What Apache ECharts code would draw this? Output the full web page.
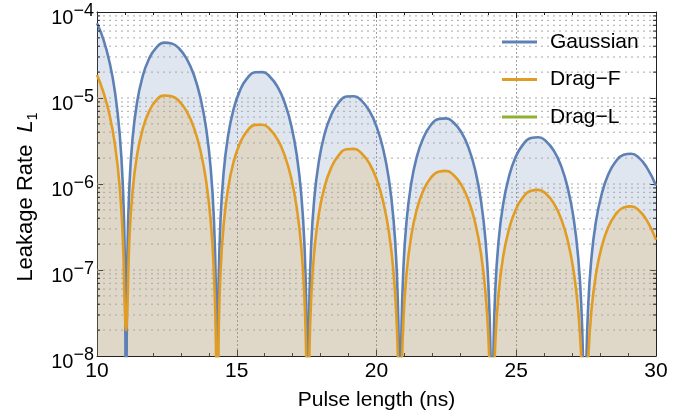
<!DOCTYPE html>
<html>
<head>
<meta charset="utf-8">
<script src="https://cdn.jsdelivr.net/npm/echarts@6/dist/echarts.min.js"></script>
<style>
html, body { margin: 0; background: #fff; }
#chart { width: 700px; height: 420px; }
</style>
</head>
<body>
<div id="chart"></div>
<script>
// pulse length (ns), sampled more densely near the zeros of the leakage curves
const pulseLength = [
    10, 10.225, 10.453, 10.649, 10.812, 10.926, 10.991,
    11.04,
    11.089, 11.154, 11.268, 11.431, 11.627, 11.855, 12.116, 12.409, 12.67, 12.931, 13.224, 13.485, 13.713, 13.909, 14.072, 14.186, 14.251,
    14.30,
    14.349, 14.413, 14.527, 14.689, 14.883, 15.11, 15.369, 15.661, 15.92, 16.179, 16.471, 16.73, 16.957, 17.151, 17.313, 17.427, 17.491,
    17.54,
    17.59, 17.656, 17.771, 17.936, 18.134, 18.365, 18.629, 18.926, 19.19, 19.454, 19.751, 20.015, 20.246, 20.444, 20.609, 20.725, 20.791,
    20.84,
    20.889, 20.955, 21.07, 21.235, 21.432, 21.663, 21.926, 22.222, 22.485, 22.748, 23.044, 23.308, 23.538, 23.735, 23.9, 24.015, 24.081,
    24.13,
    24.18, 24.246, 24.362, 24.528, 24.728, 24.96, 25.226, 25.524, 25.79, 26.056, 26.354, 26.62, 26.852, 27.052, 27.218, 27.334, 27.4,
    27.45,
    27.5, 27.566, 27.682, 27.848, 28.048, 28.28, 28.546, 28.844, 29.11, 29.376, 29.674, 30
];

const gaussian = [
    7.4e-5, 4.84e-5, 2.57e-5, 1.14e-5, 3.79e-6, 9.24e-7, 1.66e-7,
    1e-9,
    1.61e-7, 8.57e-7, 3.26e-6, 8.79e-6, 1.75e-5, 2.82e-5, 3.83e-5, 4.40e-5, 4.30e-5, 3.79e-5, 2.80e-5, 1.78e-5, 9.66e-6, 4.35e-6, 1.47e-6, 3.63e-7, 6.57e-8,
    1e-9,
    6.42e-8, 3.44e-7, 1.32e-6, 3.62e-6, 7.33e-6, 1.21e-5, 1.69e-5, 1.99e-5, 2.00e-5, 1.78e-5, 1.33e-5, 8.53e-6, 4.68e-6, 2.13e-6, 7.23e-7, 1.79e-7, 3.25e-8,
    1e-9,
    3.19e-8, 1.71e-7, 6.61e-7, 1.82e-6, 3.71e-6, 6.18e-6, 8.69e-6, 1.04e-5, 1.05e-5, 9.39e-6, 7.03e-6, 4.52e-6, 2.49e-6, 1.13e-6, 3.87e-7, 9.59e-8, 1.75e-8,
    1e-9,
    1.71e-8, 9.20e-8, 3.56e-7, 9.84e-7, 2.01e-6, 3.36e-6, 4.75e-6, 5.71e-6, 5.80e-6, 5.23e-6, 3.95e-6, 2.56e-6, 1.42e-6, 6.49e-7, 2.22e-7, 5.53e-8, 1.01e-8,
    1e-9,
    9.93e-9, 5.34e-8, 2.07e-7, 5.75e-7, 1.18e-6, 1.99e-6, 2.83e-6, 3.42e-6, 3.50e-6, 3.17e-6, 2.41e-6, 1.57e-6, 8.72e-7, 4.01e-7, 1.38e-7, 3.43e-8, 6.26e-9,
    1e-9,
    6.18e-9, 3.33e-8, 1.29e-7, 3.61e-7, 7.44e-7, 1.26e-6, 1.80e-6, 2.19e-6, 2.25e-6, 2.04e-6, 1.55e-6, 9.6e-7
];

const dragF = [
    1.85e-5, 1.18e-5, 6.29e-6, 2.78e-6, 9.26e-7, 2.26e-7, 4.07e-8,
    2e-8,
    3.94e-8, 2.09e-7, 7.96e-7, 2.15e-6, 4.26e-6, 6.89e-6, 9.36e-6, 1.07e-5, 1.05e-5, 9.27e-6, 6.84e-6, 4.34e-6, 2.36e-6, 1.06e-6, 3.59e-7, 8.86e-8, 1.61e-8,
    1e-9,
    1.57e-8, 8.40e-8, 3.23e-7, 8.85e-7, 1.79e-6, 2.96e-6, 4.12e-6, 4.87e-6, 4.89e-6, 4.36e-6, 3.25e-6, 2.08e-6, 1.14e-6, 5.20e-7, 1.77e-7, 4.38e-8, 7.95e-9,
    1e-9,
    7.80e-9, 4.18e-8, 1.61e-7, 4.45e-7, 9.07e-7, 1.51e-6, 2.12e-6, 2.54e-6, 2.56e-6, 2.29e-6, 1.72e-6, 1.11e-6, 6.09e-7, 2.77e-7, 9.45e-8, 2.34e-8, 4.26e-9,
    1e-9,
    4.19e-9, 2.25e-8, 8.70e-8, 2.41e-7, 4.92e-7, 8.22e-7, 1.16e-6, 1.39e-6, 1.42e-6, 1.28e-6, 9.65e-7, 6.25e-7, 3.46e-7, 1.59e-7, 5.43e-8, 1.35e-8, 2.46e-9,
    1e-9,
    2.43e-9, 1.30e-8, 5.06e-8, 1.41e-7, 2.89e-7, 4.85e-7, 6.91e-7, 8.36e-7, 8.55e-7, 7.74e-7, 5.88e-7, 3.83e-7, 2.13e-7, 9.80e-8, 3.37e-8, 8.39e-9, 1.53e-9,
    1e-9,
    1.51e-9, 8.13e-9, 3.16e-8, 8.81e-8, 1.82e-7, 3.07e-7, 4.39e-7, 5.34e-7, 5.50e-7, 4.98e-7, 3.78e-7, 2.25e-7
];

// Drag-L stays below 1e-8 over the whole range, only its legend entry is visible
const dragL = [];

const seriesNames = ['Gaussian', 'Drag\u2212F', 'Drag\u2212L'];
const lineColors = ['#5e81b5', '#e19c24', '#8fb032'];
const fillColors = ['rgba(94,129,181,0.2)', 'rgba(225,156,36,0.2)'];

const xTicks = [10, 15, 20, 25, 30];
const yDecades = [1e-8, 1e-7, 1e-6, 1e-5, 1e-4];
const yMantissa = [2, 3, 4, 5, 6, 7, 8, 9];

const FONT = 'Liberation Sans, Arial, Helvetica, sans-serif';
const X_MIN = xTicks[0], X_MAX = xTicks[xTicks.length - 1];
const MINOR_TICK = 0.11; // minor y tick length, in ns (about 3px)
const SMOOTH = 0.5;

let yMinor = [];
yDecades.slice(0, 4).forEach(d => yMantissa.forEach(m => yMinor.push(m * d)));
const yGrid = yMinor.concat(yDecades.slice(1, 4));

function pairs(ys) {
    return pulseLength.map((x, i) => [x, ys[i]]);
}

let myChart = echarts.init(document.getElementById('chart'), null, {renderer: 'canvas'});

const axisLineStyle = {color: '#222', width: 1};

function logAxis(position, extra) {
    return Object.assign({
        type: 'log',
        logBase: 10,
        min: yDecades[0],
        max: yDecades[yDecades.length - 1],
        position: position,
        axisLine: {show: true, lineStyle: axisLineStyle},
        axisTick: {show: true, inside: true, length: 6, lineStyle: axisLineStyle},
        axisLabel: {show: false},
        splitLine: {show: false}
    }, extra);
}

function areaSeries(idx, ys) {
    return {
        name: seriesNames[idx] + ' fill',
        type: 'line',
        data: pairs(ys),
        smooth: SMOOTH,
        showSymbol: false,
        silent: true,
        z: 1,
        lineStyle: {width: 0, opacity: 0},
        areaStyle: {color: fillColors[idx], origin: yDecades[0], opacity: 1},
        animation: false
    };
}

function lineSeries(idx, ys) {
    return {
        name: seriesNames[idx],
        type: 'line',
        data: ys.length ? pairs(ys) : [],
        smooth: SMOOTH,
        showSymbol: false,
        z: 3,
        color: lineColors[idx],
        lineStyle: {color: lineColors[idx], width: 2.6},
        animation: false
    };
}

// broken line made of short horizontal pieces, one per grid value
function segmentSeries(name, pieces, style, z) {
    let data = [];
    pieces.forEach(p => {
        data.push([p[0], p[2]], [p[1], p[2]], '-');
    });
    return {
        name: name,
        type: 'line',
        data: data,
        showSymbol: false,
        silent: true,
        connectNulls: false,
        z: z,
        lineStyle: style,
        animation: false
    };
}

// dotted horizontal grid lines at every 1..9 x 10^k
const gridSeries = segmentSeries('grid',
    yGrid.map(v => [X_MIN, X_MAX, v]),
    {color: '#a8a8a8', type: [2, 4], width: 1}, 2);

// short minor ticks on the left and right frame at 2..9 x 10^k
let tickPieces = [];
yMinor.forEach(v => {
    tickPieces.push([X_MIN, X_MIN + MINOR_TICK, v]);
    tickPieces.push([X_MAX - MINOR_TICK, X_MAX, v]);
});
const minorTickSeries = segmentSeries('minor ticks', tickPieces,
    {color: '#222', type: 'solid', width: 1}, 4);

let option = {
    backgroundColor: '#fff',
    animation: false,
    grid: {left: 97, right: 44, top: 12, bottom: 64, containLabel: false},
    legend: {
        data: seriesNames,
        orient: 'vertical',
        left: 502,
        top: 31,
        padding: 0,
        itemGap: 15.5,
        itemWidth: 35,
        itemHeight: 3,
        icon: 'rect',
        textStyle: {fontSize: 21, fontFamily: FONT, color: '#000', padding: [0, 0, 0, 8], lineHeight: 22}
    },
    xAxis: [{
        type: 'value',
        min: X_MIN,
        max: X_MAX,
        interval: 5,
        position: 'bottom',
        name: 'Pulse length (ns)',
        nameLocation: 'middle',
        nameGap: 34,
        nameTextStyle: {fontSize: 21, fontFamily: FONT, color: '#000'},
        axisLine: {show: true, lineStyle: axisLineStyle},
        axisTick: {show: true, inside: true, length: 6, lineStyle: axisLineStyle},
        minorTick: {show: true, splitNumber: 5, length: 3, lineStyle: axisLineStyle},
        axisLabel: {fontSize: 21, fontFamily: FONT, color: '#000', margin: 5, showMinLabel: true, showMaxLabel: true},
        splitLine: {show: true, lineStyle: {color: '#a0a0a0', type: [2, 2], width: 1}}
    }, {
        type: 'value',
        min: X_MIN,
        max: X_MAX,
        interval: 5,
        position: 'top',
        axisLine: {show: true, lineStyle: axisLineStyle},
        axisTick: {show: true, inside: true, length: 6, lineStyle: axisLineStyle},
        minorTick: {show: true, splitNumber: 5, length: 3, lineStyle: axisLineStyle},
        axisLabel: {show: false},
        splitLine: {show: false}
    }],
    yAxis: [
        logAxis('left', {
            name: 'Leakage Rate  {i|L}{sub|1}',
            nameLocation: 'middle',
            nameGap: 57,
            nameRotate: 90,
            nameTextStyle: {
                fontSize: 22, fontFamily: FONT, color: '#000',
                padding: [0, 26, 0, 0],
                rich: {
                    i: {fontSize: 22, fontFamily: FONT, fontStyle: 'italic', color: '#000'},
                    sub: {fontSize: 14, fontFamily: FONT, color: '#000', verticalAlign: 'bottom', lineHeight: 28}
                }
            },
            axisLabel: {
                show: true,
                margin: 3,
                padding: [7, 0, 0, 0],
                showMinLabel: true,
                showMaxLabel: true,
                formatter: v => '{b|10}{s|\u2212' + Math.round(-Math.log10(v)) + '}',
                rich: {
                    b: {fontSize: 20, fontFamily: FONT, color: '#000', verticalAlign: 'bottom', lineHeight: 26},
                    s: {fontSize: 18, fontFamily: FONT, color: '#000', verticalAlign: 'top', lineHeight: 15}
                }
            }
        }),
        logAxis('right', {})
    ],
    series: [
        areaSeries(0, gaussian),
        areaSeries(1, dragF),
        gridSeries,
        lineSeries(0, gaussian),
        lineSeries(1, dragF),
        lineSeries(2, dragL),
        minorTickSeries
    ]
};

myChart.setOption(option);
</script>
</body>
</html>
